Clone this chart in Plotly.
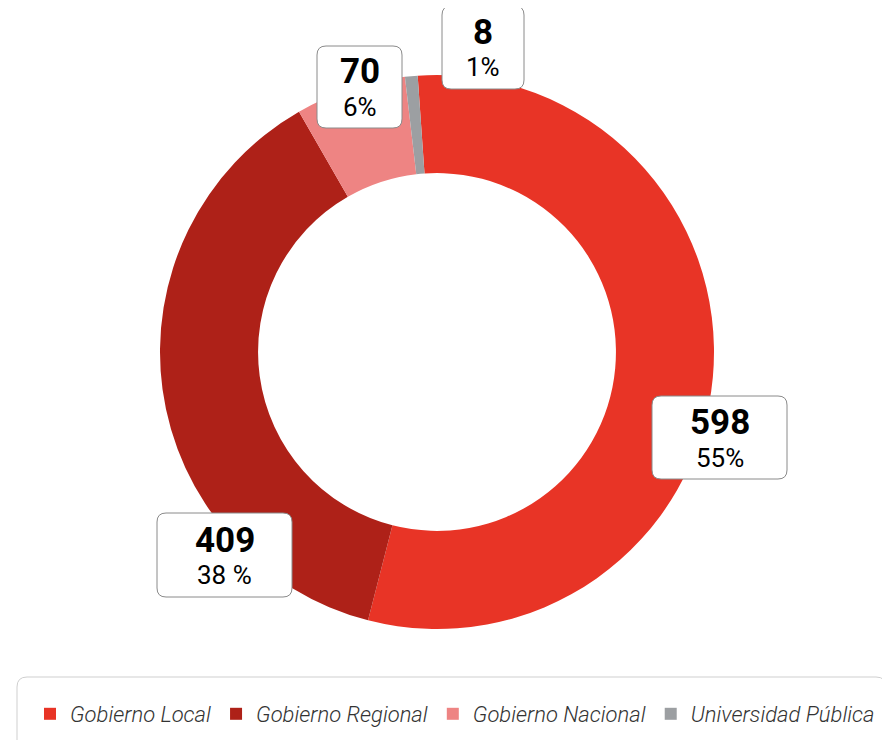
import plotly.graph_objects as go

# ---- data ----
categories = ["Gobierno Local", "Gobierno Regional", "Gobierno Nacional", "Universidad Pública"]
values = [598, 409, 70, 8]
percent_labels = ["55%", "38 %", "6%", "1%"]
colors = ["#E83426", "#AE2118", "#EE8483", "#9C9FA2"]

# page body has an 8px margin; figure sized so it fills the 890x740 window
OFF = 8
W, H = 890 - OFF, 740 - OFF
FONT = "Roboto"

def px(x):
    return (x - OFF) / W

def py(y):
    return 1 - (y - OFF) / H

fig = go.Figure()
cx, cy, R = 437, 352, 277
fig.add_trace(go.Pie(
    labels=categories,
    values=values,
    marker=dict(colors=colors, line=dict(width=0)),
    hole=0.646,
    sort=False,
    direction="clockwise",
    rotation=-4,
    textinfo="none",
    hoverinfo="label+value+percent",
    domain=dict(x=[px(cx - R), px(cx + R)], y=[py(cy + R), py(cy - R)]),
))

# label boxes (pixel layout: x0, y0, x1, y1)
boxes = [
    (652, 396, 787, 479),
    (157, 513, 292, 597),
    (317, 46, 402, 128),
    (442, 6, 524, 89),
]

def rounded_path(x0, y0, x1, y1, r=9):
    X0, X1 = px(x0), px(x1)
    Y0, Y1 = py(y0), py(y1)
    rx, ry = r / W, r / H
    return (f"M{X0+rx},{Y0} L{X1-rx},{Y0} Q{X1},{Y0} {X1},{Y0-ry} "
            f"L{X1},{Y1+ry} Q{X1},{Y1} {X1-rx},{Y1} "
            f"L{X0+rx},{Y1} Q{X0},{Y1} {X0},{Y1+ry} "
            f"L{X0},{Y0-ry} Q{X0},{Y0} {X0+rx},{Y0} Z")

shapes = []
annotations = []
for (x0, y0, x1, y1), v, p in zip(boxes, values, percent_labels):
    shapes.append(dict(type="path", xref="paper", yref="paper",
                       path=rounded_path(x0, y0, x1, y1),
                       fillcolor="white", line=dict(color="#8a8a8a", width=1), layer="above"))
    xc = (x0 + x1) / 2
    ym = (y0 + y1) / 2
    annotations.append(dict(x=px(xc), y=py(ym - 15), xref="paper", yref="paper",
                            text=f"<b>{v}</b>", showarrow=False,
                            font=dict(family=FONT, size=35, color="#000000"),
                            xanchor="center", yanchor="middle"))
    annotations.append(dict(x=px(xc), y=py(ym + 20), xref="paper", yref="paper",
                            text=p, showarrow=False,
                            font=dict(family=FONT, size=26, color="#000000"),
                            xanchor="center", yanchor="middle"))

# legend frame
lx0, ly0, lx1, ly1 = 17, 677, 886, 770
shapes.append(dict(type="path", xref="paper", yref="paper",
                   path=rounded_path(lx0, ly0, lx1, ly1, r=10),
                   fillcolor="rgba(0,0,0,0)", line=dict(color="#cfcfcf", width=1), layer="below"))

fig.update_layout(
    width=W, height=H,
    margin=dict(l=0, r=0, t=0, b=0),
    paper_bgcolor="white",
    plot_bgcolor="white",
    font=dict(family=FONT),
    shapes=shapes,
    annotations=annotations,
    showlegend=True,
    legend=dict(
        orientation="h",
        x=px(30), y=py(714), xanchor="left", yanchor="middle",
        font=dict(family=FONT, size=22, color="#333333", style="italic", weight=300),
        itemclick=False, itemdoubleclick=False,
        bgcolor="rgba(0,0,0,0)",
        traceorder="normal",
    ),
)

fig.write_html("out.html")
